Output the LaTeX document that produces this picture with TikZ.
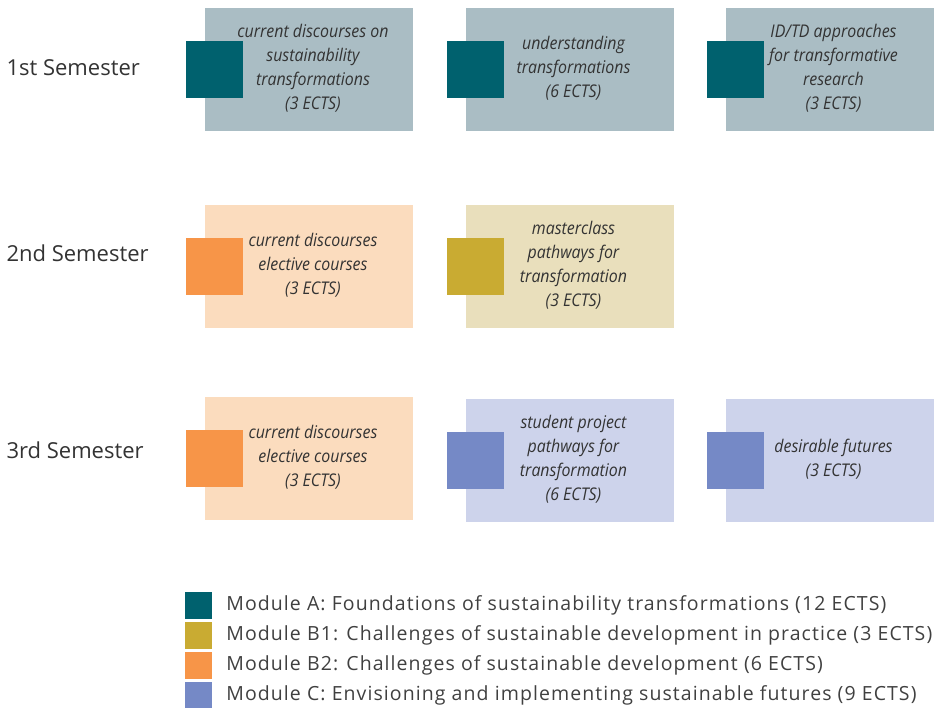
\documentclass[tikz,border=0pt]{standalone}
\usepackage{xcolor}
\usepackage{fontspec}
\setmainfont{Open Sans}
\newfontfamily\boxfont[FakeStretch=0.91]{Open Sans}
\newfontfamily\legendfont[LetterSpace=5.5]{Open Sans}
\usepackage{tikz}
\usetikzlibrary{positioning,calc}

\begin{document}
\begin{tikzpicture}[x=1pt,y=-1pt]
	\definecolor{acolor}{RGB}{0,97,110}
	\definecolor{alight}{RGB}{170,189,196}
	\definecolor{bonecolor}{RGB}{201,171,50}
	\definecolor{bonelight}{RGB}{233,223,188}
	\definecolor{btwocolor}{RGB}{247,149,72}
	\definecolor{btwolight}{RGB}{251,220,190}
	\definecolor{ccolor}{RGB}{117,137,198}
	\definecolor{clight}{RGB}{205,211,235}
	\tikzstyle{course}=[rectangle, minimum width=208pt, minimum height=123pt, inner sep=0pt]
	\tikzstyle{coursetext}=[align=center, text=black!80, xshift=4pt, yshift=1pt, font=\boxfont\itshape\fontsize{17.5}{24}\selectfont]
	\tikzstyle{tag}=[rectangle, minimum size=57pt, inner sep=0pt]
	\tikzstyle{semester}=[anchor=west, text=black!80, font=\fontsize{22}{26}\selectfont]
	\tikzstyle{key}=[rectangle, minimum size=27pt, inner sep=0pt]
	\tikzstyle{keytext}=[anchor=west, inner sep=0pt, text=black!75, font=\legendfont\fontsize{19.5}{22}\selectfont]
	\def\tagshift{10pt}

	\useasboundingbox (0,0) rectangle (939,707);

	% Draw the semester labels
	\foreach \name/\y/\txt in {1/68/1st, 2/253/2nd, 3/450/3rd}
	\node[semester] (S-\name) at (3,\y) {\txt\ Semester};

	% Draw the course boxes of the 1st semester
	\node[course, fill=alight, label={[coursetext]center:{current discourses on\\sustainability\\transformations\\(3 ECTS)}}] (C-1-1) at (309,69.5) {};
	\node[course, fill=alight, label={[coursetext]center:{understanding\\transformations\\(6 ECTS)}}] (C-1-2) at (569.5,69.5) {};
	\node[course, fill=alight, label={[coursetext]center:{ID/TD approaches\\for transformative\\research\\(3 ECTS)}}] (C-1-3) at (829.5,69.5) {};
	% Draw the course boxes of the 2nd semester
	\node[course, fill=btwolight, label={[coursetext]center:{current discourses\\elective courses\\(3 ECTS)}}] (C-2-1) at (309,266) {};
	\node[course, fill=bonelight, label={[coursetext]center:{masterclass\\pathways for\\transformation\\(3 ECTS)}}] (C-2-2) at (569.5,266) {};
	% Draw the course boxes of the 3rd semester
	\node[course, fill=btwolight, label={[coursetext]center:{current discourses\\elective courses\\(3 ECTS)}}] (C-3-1) at (309,458) {};
	\node[course, fill=clight, label={[coursetext]center:{student project\\pathways for\\transformation\\(6 ECTS)}}] (C-3-2) at (569.5,460) {};
	\node[course, fill=clight, label={[coursetext]center:{desirable futures\\(3 ECTS)}}] (C-3-3) at (829.5,460) {};

	% Put a module tag on the left edge of every course box
	\foreach \course/\col in {1-1/acolor, 1-2/acolor, 1-3/acolor, 2-1/btwocolor, 2-2/bonecolor, 3-1/btwocolor, 3-2/ccolor, 3-3/ccolor}
	\node[tag, fill=\col, xshift=\tagshift] (T-\course) at (C-\course.west) {};

	% Draw the legend
	\foreach \name/\y/\col/\txt in {
		1/605/acolor/{Module A: Foundations of sustainability transformations (12 ECTS)},
		2/635/bonecolor/{Module B1: Challenges of sustainable development in practice (3 ECTS)},
		3/665/btwocolor/{Module B2: Challenges of sustainable development (6 ECTS)},
		4/695/ccolor/{Module C: Envisioning and implementing sustainable futures (9 ECTS)}}
	{
	 \node[key, fill=\col] (K-\name) at (198.5,\y) {};
	 \node[keytext, right=14pt of K-\name] (L-\name) {\txt};
	}
\end{tikzpicture}
\end{document}
